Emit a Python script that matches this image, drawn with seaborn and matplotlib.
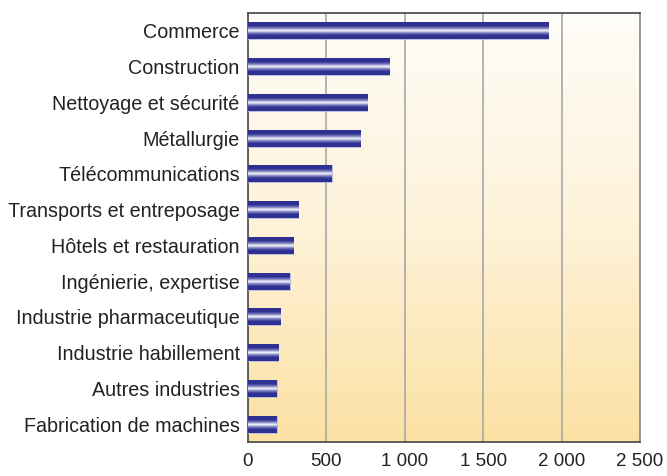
import numpy as np
import pandas as pd
import matplotlib
matplotlib.use('Agg')
import matplotlib.pyplot as plt
from matplotlib.colors import LinearSegmentedColormap
from matplotlib.ticker import FuncFormatter
import seaborn as sns

# Données
secteurs = ['Commerce', 'Construction', 'Nettoyage et sécurité', 'Métallurgie',
            'Télécommunications', 'Transports et entreposage', 'Hôtels et restauration',
            'Ingénierie, expertise', 'Industrie pharmaceutique', 'Industrie habillement',
            'Autres industries', 'Fabrication de machines']
valeurs = [1915, 902, 760, 716, 533, 322, 290, 265, 205, 192, 182, 182]
graduations = [0, 500, 1000, 1500, 2000, 2500]

df = pd.DataFrame({'secteur': secteurs, 'valeur': valeurs})

sns.set_style('white')
plt.rcParams['font.family'] = ['Liberation Sans', 'DejaVu Sans']

fig = plt.figure(figsize=(6.67, 4.76), dpi=100)
ax = fig.add_axes([0.3718, 0.0714, 0.5877, 0.9013])

# fond dégradé blanc -> orange clair
fond = LinearSegmentedColormap.from_list('fond', ['#FFFDF8', '#FEF2D9', '#FCE1A3'])
grad = np.linspace(0, 1, 256).reshape(-1, 1)
ax.imshow(grad, cmap=fond, aspect='auto', extent=[0, 1, 0, 1],
          transform=ax.transAxes, zorder=0)

sns.barplot(data=df, x='valeur', y='secteur', orient='h', color='#2E3192',
            width=0.47, saturation=1, ax=ax, zorder=3, edgecolor='#C8C8E8', linewidth=0.6)

# effet cylindre sur les barres
cyl = LinearSegmentedColormap.from_list(
    'cyl', [(0, '#2E3192'), (0.22, '#2E3192'), (0.38, '#8C8EC8'), (0.5, '#FFFFFF'),
            (0.62, '#8C8EC8'), (0.78, '#2E3192'), (1, '#2E3192')])
bande = np.linspace(0, 1, 64).reshape(-1, 1)
for p in ax.patches:
    x0, y0 = p.get_x(), p.get_y()
    w, h = p.get_width(), p.get_height()
    im = ax.imshow(bande, cmap=cyl, aspect='auto', extent=[x0, x0 + w, y0 + h, y0],
                   zorder=4, interpolation='bilinear')
    im.set_clip_path(p)

ax.set_xlim(0, 2500)
ax.set_ylim(len(secteurs) - 0.5, -0.5)
ax.set_xticks(graduations)
ax.xaxis.set_major_formatter(FuncFormatter(lambda v, pos: f'{int(v):,}'.replace(',', ' ')))
for g in graduations[1:-1]:
    ax.axvline(g, color='#A8A8A8', lw=1.2, zorder=1)

ax.set_xlabel('')
ax.set_ylabel('')
ax.tick_params(axis='x', direction='out', length=5, width=1, color='#333333',
               labelsize=13.5, pad=3, labelcolor='#222222')
ax.tick_params(axis='y', length=0, labelsize=14.2, pad=6, labelcolor='#222222')

for s in ['left', 'bottom', 'top']:
    ax.spines[s].set_color('#444444')
    ax.spines[s].set_linewidth(1.2)
ax.spines['right'].set_color('#888888')
ax.spines['right'].set_linewidth(1.2)

fig.savefig('out.png', dpi=100)
